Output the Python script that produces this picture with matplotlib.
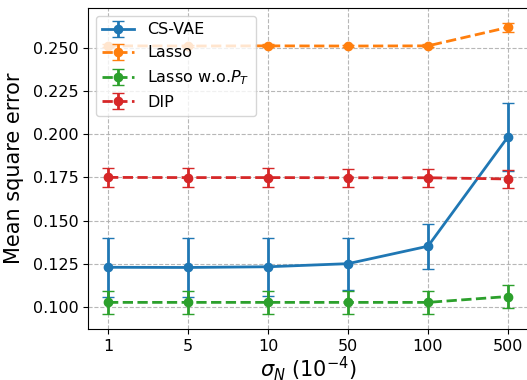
import numpy as np
import matplotlib
matplotlib.use('Agg')
import matplotlib.pyplot as plt

noise_labels = ['1', '5', '10', '50', '100', '500']

cs_vae = [0.1230, 0.1229, 0.1233, 0.1251, 0.1352, 0.1985]
cs_vae_err = [0.0170, 0.0170, 0.0168, 0.0150, 0.0130, 0.0198]

lasso = [0.2511, 0.2510, 0.2511, 0.2510, 0.2511, 0.2618]
lasso_err = [0.0008, 0.0008, 0.0008, 0.0008, 0.0008, 0.0028]

lasso_wo = [0.1027, 0.1027, 0.1027, 0.1027, 0.1027, 0.1061]
lasso_wo_err = [0.0066, 0.0066, 0.0066, 0.0066, 0.0066, 0.0064]

dip = [0.1750, 0.1749, 0.1749, 0.1748, 0.1748, 0.1741]
dip_err = [0.0053, 0.0053, 0.0053, 0.0053, 0.0053, 0.0050]

x = np.arange(len(noise_labels))

fig = plt.figure(figsize=(5.27, 3.8), dpi=100)
ax = fig.add_axes([88 / 527, 51 / 380, 440 / 527, 321 / 380])

common = dict(marker='o', markersize=6, linewidth=2, capsize=4, elinewidth=2)
ax.errorbar(x, cs_vae, yerr=cs_vae_err, color='tab:blue', linestyle='-', label='CS-VAE', **common)
ax.errorbar(x, lasso, yerr=lasso_err, color='tab:orange', linestyle='--', label='Lasso', **common)
ax.errorbar(x, lasso_wo, yerr=lasso_wo_err, color='tab:green', linestyle='--',
            label='Lasso w.o.$P_T$', **common)
ax.errorbar(x, dip, yerr=dip_err, color='tab:red', linestyle='--', label='DIP', **common)

ax.set_xticks(x)
ax.set_xticklabels(noise_labels)
ax.set_xlim(-0.25, 5.25)
ax.set_ylim(0.0873, 0.273)
ax.set_yticks([0.100, 0.125, 0.150, 0.175, 0.200, 0.225, 0.250])
ax.tick_params(labelsize=11.5)
ax.grid(True, linestyle='--', color='#b0b0b0', alpha=0.9)
ax.set_xlabel(r'$\sigma_N$ ($10^{-4}$)', fontsize=15, labelpad=0)
ax.set_ylabel('Mean square error', fontsize=15, labelpad=6)
ax.legend(loc='upper left', fontsize=11.5)

fig.savefig('out.png', dpi=100)
